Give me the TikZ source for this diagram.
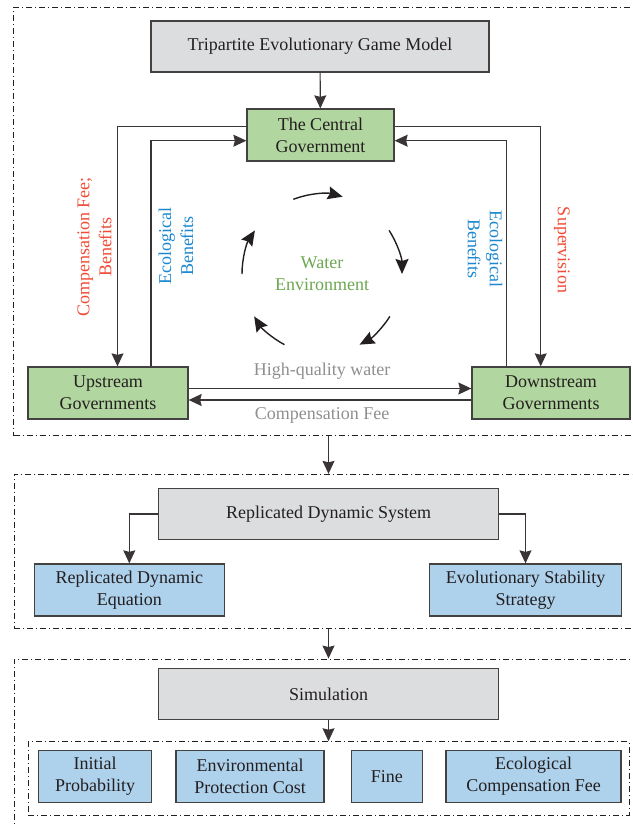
\documentclass[tikz,border=0pt]{standalone}
\usepackage{fontspec}
\setmainfont{Liberation Serif}
\usetikzlibrary{arrows.meta}
\definecolor{boxgray}{HTML}{DCDDDF}
\definecolor{boxgreen}{HTML}{B2D69F}
\definecolor{boxblue}{HTML}{AED1EC}
\definecolor{txtred}{HTML}{EF4B35}
\definecolor{txtblue}{HTML}{1A87CF}
\definecolor{txtgreen}{HTML}{6BA84F}
\definecolor{txtgray}{HTML}{8F8F8F}
\definecolor{ink}{HTML}{231F20}
\begin{document}
\begin{tikzpicture}[x=1pt,y=-1pt,
    every node/.style={font=\fontsize{18}{22}\selectfont, text=ink, align=center, inner sep=0pt},
    gbox/.style={draw=ink!85, line width=1.3pt, fill=boxgray, minimum height=51pt},
    greenbox/.style={draw=ink!85, line width=1.3pt, fill=boxgreen, minimum height=52pt},
    bluebox/.style={draw=ink!85, line width=1.3pt, fill=boxblue, minimum height=52pt},
    frame/.style={draw=ink, line width=0.9pt, dash pattern=on 6pt off 3pt on 1pt off 3pt, minimum width=#1},
    flow/.style={draw=ink!90, line width=1.1pt, -{Stealth[length=13pt,width=12pt,inset=1.5pt]}},
    cyc/.style={draw=ink, line width=1.4pt, -{Stealth[length=15pt,width=13pt,inset=2pt]}}]
  \clip (0,0) rectangle (632,826);
  \node[frame=640pt, minimum height=428pt] (f1) at (333.5,221.5) {};
  \node[frame=640pt, minimum height=154.4pt] (f2) at (334,551.5) {};
  \node[frame=640pt, minimum height=190pt] (f3) at (334,754) {};
  \node[frame=600.7pt, minimum height=73.3pt] (inner) at (328.65,778.35) {};

  \node[gbox, minimum width=338pt] (model) at (320,46.5) {Tripartite Evolutionary Game Model};
  \node[greenbox, minimum width=147pt] (central) at (320.5,135) {The Central\\Government};
  \node[greenbox, minimum width=160pt] (up) at (108,393) {Upstream\\Governments};
  \node[greenbox, minimum width=158pt] (down) at (551,393) {Downstream\\Governments};
  \node[text=txtgreen] (water) at (322,274) {Water\\Environment};

  \node[gbox, minimum width=340pt] (rds) at (328.5,514) {Replicated Dynamic System};
  \node[bluebox, minimum width=190pt] (rde) at (129.3,590) {Replicated Dynamic\\Equation};
  \node[bluebox, minimum width=192pt] (ess) at (525.5,590) {Evolutionary Stability\\Strategy};

  \node[gbox, minimum width=340pt] (sim) at (328.5,694) {Simulation};
  \node[bluebox, minimum width=113pt] (ip) at (95.2,776.5) {Initial\\Probability};
  \node[bluebox, minimum width=148pt] (epc) at (250,776.5) {Environmental\\Protection Cost};
  \node[bluebox, minimum width=71pt] (fine) at (386.9,776.5) {Fine};
  \node[bluebox, minimum width=175pt] (ecf) at (533.5,776.5) {Ecological\\Compensation Fee};

  \node[text=txtred, rotate=90] (lcomp) at (94.5,247) {Compensation Fee;\\Benefits};
  \node[text=txtblue, rotate=90] (leco) at (176,246) {Ecological\\Benefits};
  \node[text=txtblue, rotate=-90] (reco) at (485,249) {Ecological\\Benefits};
  \node[text=txtred, rotate=-90] (rsup) at (562,250) {Supervision};
  \node[text=txtgray] (hqw) at (322,371) {High-quality water};
  \node[text=txtgray] (cfee) at (322,415) {Compensation Fee};

  \draw[flow] (model) -- (central);
  \draw[flow] ([yshift=8.3pt]central.west) -| ([xshift=9.5pt]up.north);
  \draw[flow] ([xshift=43pt]up.north) |- ([yshift=-5.7pt]central.west);
  \draw[flow] ([yshift=8.3pt]central.east) -| ([xshift=-10.3pt]down.north);
  \draw[flow] ([xshift=-44.7pt]down.north) |- ([yshift=-5.7pt]central.east);
  \draw[flow] ([yshift=4.5pt]up.east) -- ([yshift=4.5pt]down.west);
  \draw[flow] ([yshift=-7pt]down.west) -- ([yshift=-7pt]up.east);

  \foreach \a/\b in {111/75, 33/0, -32/-62, -118/-148, 180/147}
    \draw[cyc] ([shift={(\a:80pt)}]water.center) arc[start angle=\a, end angle=\b, radius=80pt];

  \draw[flow] (f1.south -| rds.center) -- (f2.north -| rds.center);
  \draw[flow] (rds.west) -| (rde.north);
  \draw[flow] (rds.east) -| (ess.north);
  \draw[flow] (f2.south -| sim.center) -- (f3.north -| sim.center);
  \draw[flow] (sim) -- (inner.north -| sim.center);
\end{tikzpicture}
\end{document}
